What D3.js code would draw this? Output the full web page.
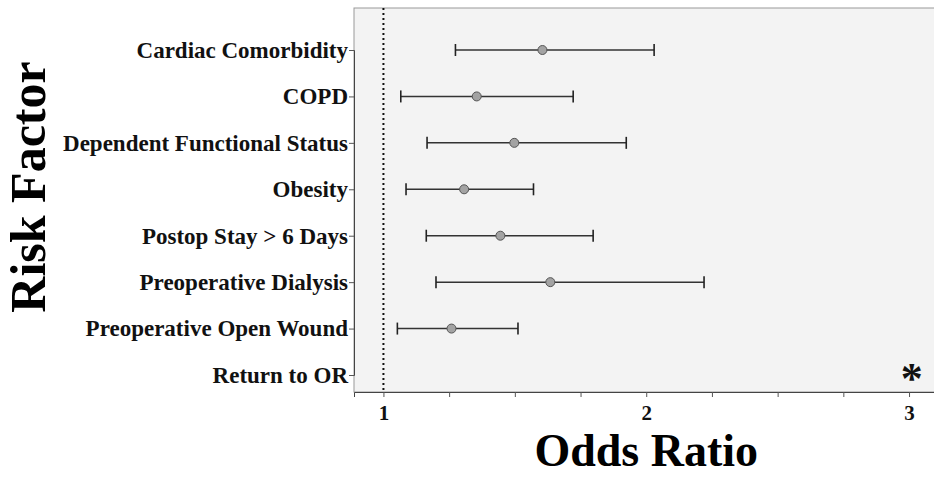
<!DOCTYPE html>
<html>
<head>
<meta charset="utf-8">
<script src="https://cdn.jsdelivr.net/npm/d3@7"></script>
<style>
  body { margin: 0; background: #fff; }
  text { font-family: "Liberation Serif", "Times New Roman", serif; font-weight: bold; }
</style>
</head>
<body>
<div id="chart"></div>
<script>
// risk factors, top to bottom
const factors = ["Cardiac Comorbidity", "COPD", "Dependent Functional Status", "Obesity",
  "Postop Stay > 6 Days", "Preoperative Dialysis", "Preoperative Open Wound", "Return to OR"];
// odds ratio and 95% CI (Return to OR is off the scale, marked with *)
const oddsRatio = [1.605, 1.355, 1.498, 1.307, 1.445, 1.635, 1.259, null];
const ciLow     = [1.274, 1.066, 1.166, 1.086, 1.163, 1.200, 1.053, null];
const ciHigh    = [2.030, 1.722, 1.924, 1.571, 1.798, 2.220, 1.512, null];
const offScale  = ["Return to OR"];
const xTicks = [1, 2, 3];

const width = 934, height = 477;
const margin = {top: 8, right: 0, bottom: 85, left: 354};
const w = width - margin.left - margin.right, h = height - margin.top - margin.bottom;

const svg = d3.select("#chart").append("svg")
    .attr("width", width).attr("height", height);
const g = svg.append("g").attr("transform", `translate(${margin.left},${margin.top})`);

const x = d3.scaleLinear().domain([0.888, 3.095]).range([0, w]);
const y = d3.scalePoint().domain(factors).range([42, h - 17]);

// panel
g.append("rect").attr("width", w + 2).attr("height", h)
    .attr("fill", "#f3f3f3").attr("stroke", "#999").attr("stroke-width", 1);

// reference line at OR = 1
g.append("line")
    .attr("x1", x(1)).attr("x2", x(1)).attr("y1", 0).attr("y2", h)
    .attr("stroke", "#111").attr("stroke-width", 2).attr("stroke-dasharray", "2,3");

// x axis
const xAxis = g.append("g").attr("transform", `translate(0,${h})`)
    .call(d3.axisBottom(x).tickValues(d3.range(1, 3.01, 0.25)).tickSize(5)
      .tickFormat(d => xTicks.includes(d) ? d : ""));
xAxis.select(".domain").attr("stroke", "#444");
xAxis.selectAll(".tick line").attr("stroke", "#555");
xAxis.selectAll("text").attr("font-size", 21).attr("dy", "0.95em").attr("fill", "#111")
    .style("font-family", "Liberation Serif").style("font-weight", "bold");

// y axis
const yAxis = g.append("g")
    .call(d3.axisLeft(y).tickSize(5).tickPadding(1));
yAxis.select(".domain").attr("stroke", "#444");
yAxis.selectAll(".tick line").attr("stroke", "#555");
yAxis.selectAll("text").attr("font-size", 23).attr("fill", "#111")
    .style("font-family", "Liberation Serif").style("font-weight", "bold");

// error bars
const rows = factors.map((f, i) => ({f, or: oddsRatio[i], lo: ciLow[i], hi: ciHigh[i]}))
    .filter(d => d.or !== null);
const bars = g.selectAll(".bar").data(rows).join("g").attr("class", "bar");
bars.append("line")
    .attr("x1", d => x(d.lo)).attr("x2", d => x(d.hi))
    .attr("y1", d => y(d.f)).attr("y2", d => y(d.f))
    .attr("stroke", "#333").attr("stroke-width", 1.5);
bars.selectAll(".cap").data(d => [d.lo, d.hi].map(v => ({v, f: d.f}))).join("line")
    .attr("x1", d => x(d.v)).attr("x2", d => x(d.v))
    .attr("y1", d => y(d.f) - 6).attr("y2", d => y(d.f) + 6)
    .attr("stroke", "#222").attr("stroke-width", 1.6);
bars.append("circle")
    .attr("cx", d => x(d.or)).attr("cy", d => y(d.f)).attr("r", 4.5)
    .attr("fill", "#a3a3a3").attr("stroke", "#555").attr("stroke-width", 1);

// off-scale marker
g.selectAll(".star").data(offScale).join("text")
    .attr("x", x(3.01)).attr("y", d => y(d) + 18)
    .attr("text-anchor", "middle").attr("font-size", 44).attr("fill", "#111")
    .text("*");

// axis titles
svg.append("text")
    .attr("x", margin.left + x(2)).attr("y", 466)
    .attr("text-anchor", "middle").attr("font-size", 46).attr("fill", "#000")
    .text("Odds Ratio");
svg.append("text")
    .attr("transform", `translate(45,187) rotate(-90)`)
    .attr("text-anchor", "middle").attr("font-size", 50).attr("fill", "#000")
    .text("Risk Factor");
</script>
</body>
</html>
